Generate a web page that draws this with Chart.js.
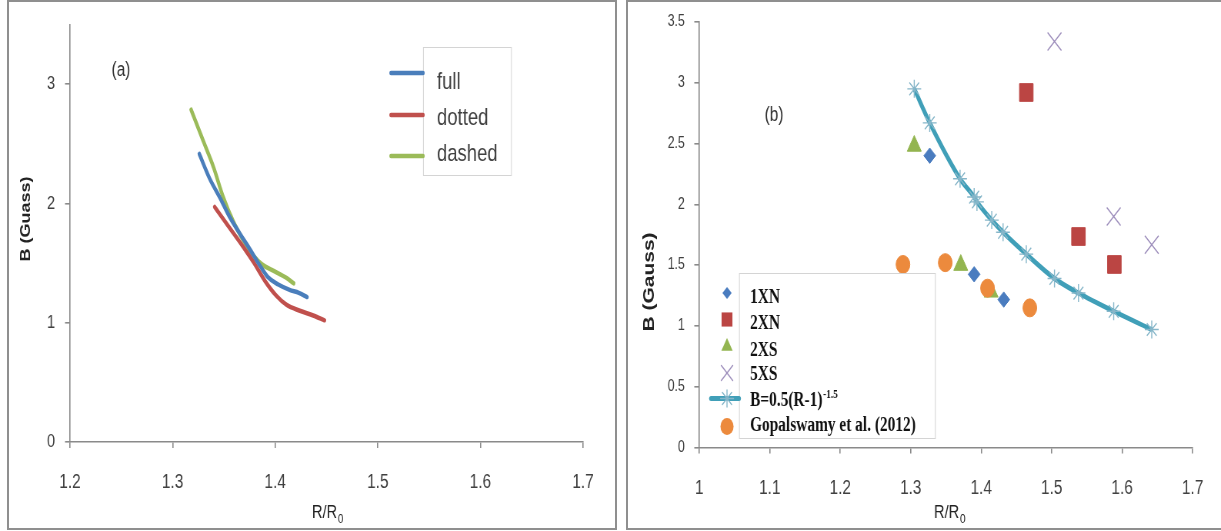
<!DOCTYPE html>
<html><head><meta charset="utf-8">
<script src="https://cdn.jsdelivr.net/npm/chart.js"></script>
<style>
html,body{margin:0;padding:0;background:#fff;width:1221px;height:531px;overflow:hidden}
.panel{position:absolute;box-sizing:border-box;border:2px solid #8f8f8f;}
#pa{left:7px;top:0;width:610px;height:530px}
#pb{left:626px;top:0;width:600px;height:530px}
canvas{position:absolute;top:0}
#ca{left:0}
#cb{left:620px}
</style></head>
<body>
<div class="panel" id="pa"></div><div class="panel" id="pb"></div>
<canvas id="ca" width="806" height="531" style="width:620px;height:531px"></canvas>
<canvas id="cb" width="781" height="531" style="width:601px;height:531px"></canvas>
<script>
// ---------- Panel (a) data ----------
const fullR   = [1.326,1.336,1.346,1.356,1.366,1.375,1.385,1.393,1.403,1.414,1.423,1.431];
const fullB   = [2.415,2.21,2.05,1.88,1.74,1.62,1.48,1.38,1.32,1.275,1.25,1.215];
const dottedR = [1.341,1.353,1.366,1.379,1.390,1.401,1.411,1.424,1.437,1.448];
const dottedB = [1.97,1.825,1.67,1.505,1.35,1.227,1.15,1.10,1.06,1.02];
const dashedR = [1.318,1.330,1.340,1.349,1.359,1.369,1.379,1.387,1.398,1.410,1.418];
const dashedB = [2.785,2.52,2.30,2.06,1.85,1.69,1.56,1.49,1.436,1.38,1.33];
const xTicksA = [1.2,1.3,1.4,1.5,1.6,1.7];
const xLabelsA = ['1.2','1.3','1.4','1.5','1.6','1.7'];
const yTicksA = [0,1,2,3];
const yLabelsA = ['0','1','2','3'];
const legendA = ['full','dotted','dashed'];

// ---------- Panel (b) data ----------
const r1XN = [1.327,1.390,1.432], b1XN = [2.40,1.424,1.216];
const r2XN = [1.464,1.538,1.589], b2XN = [2.92,1.735,1.505];
const r2XS = [1.305,1.371,1.414], b2XS = [2.48,1.50,1.28];
const r5XS = [1.504,1.588,1.642], b5XS = [3.34,1.90,1.667];
const rFit = [1.305,1.327,1.370,1.390,1.394,1.415,1.431,1.464,1.504,1.538,1.588,1.642];
const bFit = [2.95,2.67,2.21,2.06,2.02,1.87,1.77,1.59,1.39,1.27,1.12,0.97];
const rGop = [1.289,1.349,1.409,1.469], bGop = [1.505,1.52,1.31,1.148];
const xTicksB = [1,1.1,1.2,1.3,1.4,1.5,1.6,1.7];
const xLabelsB = ['1','1.1','1.2','1.3','1.4','1.5','1.6','1.7'];
const yTicksB = [0,0.5,1,1.5,2,2.5,3,3.5];
const yLabelsB = ['0','0.5','1','1.5','2','2.5','3','3.5'];
const legendB = ['1XN','2XN','2XS','5XS','B=0.5(R-1)','Gopalswamy et al. (2012)'];

// ---------- common ----------
const KA = 806/620, KB = 781/601;
const SANS = '"Liberation Sans", Arial, sans-serif';
const SERIF = '"Liberation Serif", "Times New Roman", serif';
const AXC = '#8a8a8a', TXT = '#404040';
const pts = (xs, ys) => xs.map((x, i) => ({x: x, y: ys[i]}));

function mark(c, style, x, y, r, fill, stroke, lw) {
  c.save(); c.beginPath(); c.fillStyle = fill; c.strokeStyle = stroke; c.lineWidth = lw;
  const d = r * Math.SQRT1_2;
  if (style === 'circle') { c.arc(x, y, r, 0, 2*Math.PI); c.fill(); }
  else if (style === 'rectRot') { c.moveTo(x-r,y); c.lineTo(x,y-r); c.lineTo(x+r,y); c.lineTo(x,y+r); c.closePath(); c.fill(); }
  else if (style === 'rect') { c.rect(x-d,y-d,2*d,2*d); c.fill(); }
  else if (style === 'triangle') { c.moveTo(x,y-r); c.lineTo(x+r*0.866,y+r/2); c.lineTo(x-r*0.866,y+r/2); c.closePath(); c.fill(); }
  else if (style === 'crossRot') { c.moveTo(x-d,y-d); c.lineTo(x+d,y+d); c.moveTo(x+d,y-d); c.lineTo(x-d,y+d); c.stroke(); }
  else if (style === 'star') { c.moveTo(x-d,y-d); c.lineTo(x+d,y+d); c.moveTo(x+d,y-d); c.lineTo(x-d,y+d);
    c.moveTo(x,y-r); c.lineTo(x,y+r); c.moveTo(x-r,y); c.lineTo(x+r,y); c.stroke(); }
  c.restore();
}

function subText(c, x, base, main, sub, fs, ss) {
  c.save(); c.textAlign = 'left'; c.textBaseline = 'alphabetic'; c.fillStyle = '#222';
  c.font = fs + 'px ' + SANS; c.fillText(main, x, base);
  const w = c.measureText(main).width;
  c.font = ss + 'px ' + SANS; c.fillText(sub, x + w + 1, base + 5);
  c.restore();
}

function axis(ticks, labels, font, pad, tl, bw, afterFit, min, max) {
  return {
    type: 'linear', min: min, max: max,
    afterBuildTicks: s => { s.ticks = ticks.map(v => ({value: v})); },
    afterFit: afterFit,
    ticks: { autoSkip: false, maxRotation: 0, color: TXT, font: {family: SANS, size: font}, padding: pad,
             callback: (v, i) => labels[i] },
    grid: { display: true, drawOnChartArea: false, drawTicks: true, tickLength: tl, color: AXC, lineWidth: bw },
    border: { display: true, color: AXC, width: bw }
  };
}

// ---------- Chart (a) ----------
const annA = {
  id: 'annA',
  afterDraw(chart) {
    const c = chart.ctx, X = v => v * KA;
    c.save();
    c.fillStyle = '#333'; c.font = '20px ' + SANS; c.textAlign = 'center'; c.textBaseline = 'middle';
    c.fillText('(a)', X(121), 70);
    c.save(); c.translate(X(26.5), 219); c.rotate(-Math.PI/2);
    c.font = 'bold 18px ' + SANS; c.fillStyle = '#222'; c.fillText('B (Guass)', 0, 0); c.restore();
    subText(c, X(312), 518, 'R/R', '0', 19, 13);
    // legend
    c.fillStyle = '#fff'; c.fillRect(X(423), 47, X(511)-X(423), 128);
    c.strokeStyle = '#d4d4d4'; c.lineWidth = 1; c.strokeRect(X(423)+0.5, 47.5, X(511)-X(423), 128);
    const cols = ['#4A7EBB', '#C0504D', '#9BBB59'], ly = [73, 115, 156], ty = [82, 118, 154];
    c.lineCap = 'round';
    for (let i = 0; i < 3; i++) {
      c.beginPath(); c.strokeStyle = cols[i]; c.lineWidth = 4.5;
      c.moveTo(X(391), ly[i]); c.lineTo(X(423), ly[i]); c.stroke();
      c.fillStyle = TXT; c.font = '24px ' + SANS; c.textAlign = 'left'; c.textBaseline = 'middle';
      c.fillText(legendA[i], X(437), ty[i]);
    }
    c.restore();
  }
};

new Chart(document.getElementById('ca'), {
  type: 'line',
  data: { datasets: [
    { label: legendA[0], data: pts(fullR, fullB), borderColor: '#4A7EBB', borderWidth: 4.5, pointRadius: 0, cubicInterpolationMode: 'monotone', fill: false, borderCapStyle: 'round' },
    { label: legendA[1], data: pts(dottedR, dottedB), borderColor: '#C0504D', borderWidth: 4.5, pointRadius: 0, cubicInterpolationMode: 'monotone', fill: false, borderCapStyle: 'round' },
    { label: legendA[2], data: pts(dashedR, dashedB), borderColor: '#9BBB59', borderWidth: 4.5, pointRadius: 0, cubicInterpolationMode: 'monotone', fill: false, borderCapStyle: 'round' }
  ]},
  options: {
    responsive: false, animation: false, events: [],
    layout: { padding: { left: 0, right: 806 - 583*KA, top: 23, bottom: 0 } },
    plugins: { legend: { display: false }, tooltip: { enabled: false } },
    scales: {
      x: axis(xTicksA, xLabelsA, 20, 22, 6, 1.6, s => { s.height = 89; }, 1.2, 1.7),
      y: axis(yTicksA, yLabelsA, 19, 13, 5*KA, 1.6, s => { s.width = 70*KA; }, 0, 3.5)
    }
  },
  plugins: [annA]
});

// ---------- Chart (b) ----------
const stylesB = [
  { st: 'rectRot', r: 7.7, fill: '#4A7CBF', stroke: '#4A7CBF', lw: 1, lr: 6 },
  { st: 'rect', r: 12.5, fill: '#BB4543', stroke: '#BB4543', lw: 1, lr: 10 },
  { st: 'triangle', r: 10.5, fill: '#93B550', stroke: '#93B550', lw: 1, lr: 8.5 },
  { st: 'crossRot', r: 12.7, fill: '#9C8DBB', stroke: '#9C8DBB', lw: 1.4, lr: 10.5 },
  { st: 'star', r: 9, fill: '#86B6C9', stroke: '#86B6C9', lw: 1.4, lr: 8.5 },
  { st: 'circle', r: 9, fill: '#EC8A3D', stroke: '#EC8A3D', lw: 1, lr: 8.5 }
];

const annB = {
  id: 'annB',
  afterDraw(chart) {
    const c = chart.ctx, X = v => (v - 620) * KB;
    c.save();
    c.fillStyle = '#333'; c.font = '20px ' + SANS; c.textAlign = 'center'; c.textBaseline = 'middle';
    c.fillText('(b)', X(774), 115);
    c.save(); c.translate(X(649.5), 282); c.rotate(-Math.PI/2);
    c.font = 'bold 21px ' + SANS; c.fillStyle = '#222'; c.fillText('B (Gauss)', 0, 0); c.restore();
    subText(c, X(934), 518, 'R/R', '0', 19, 13);
    // legend box
    c.fillStyle = '#fff'; c.fillRect(X(739), 273, X(935)-X(739), 165);
    c.strokeStyle = '#d4d4d4'; c.lineWidth = 1; c.strokeRect(X(739)+0.5, 273.5, X(935)-X(739), 165);
    const my = [293, 319.5, 346.5, 373, 398.5, 426.5];
    const base = [303, 328.5, 355.5, 380, 405.5, 431];
    // fit line sample
    c.beginPath(); c.strokeStyle = '#409FB8'; c.lineWidth = 5; c.lineCap = 'round';
    c.moveTo(X(711), my[4]); c.lineTo(X(739), my[4]); c.stroke();
    for (let i = 0; i < 6; i++) {
      const s = stylesB[i];
      mark(c, s.st, X(727), my[i], s.lr, s.fill, s.stroke, s.lw);
      c.fillStyle = '#111'; c.font = 'bold 20px ' + SERIF; c.textAlign = 'left'; c.textBaseline = 'alphabetic';
      c.fillText(legendB[i], X(750), base[i]);
      if (i === 4) {
        const w = c.measureText(legendB[i]).width;
        c.font = 'bold 12px ' + SERIF; c.fillText('-1.5', X(750) + w + 1, base[i] - 8);
      }
    }
    c.restore();
  }
};

function sc(label, xs, ys, s, order) {
  return { label: label, data: pts(xs, ys), showLine: false, pointStyle: s.st, pointRadius: s.r,
    pointBackgroundColor: s.fill, pointBorderColor: s.stroke, pointBorderWidth: s.lw, order: order };
}

new Chart(document.getElementById('cb'), {
  type: 'scatter',
  data: { datasets: [
    sc(legendB[0], r1XN, b1XN, stylesB[0], 5),
    sc(legendB[1], r2XN, b2XN, stylesB[1], 4),
    sc(legendB[2], r2XS, b2XS, stylesB[2], 3),
    sc(legendB[3], r5XS, b5XS, stylesB[3], 2),
    { label: legendB[4], data: pts(rFit, bFit), showLine: true, borderColor: '#409FB8', borderWidth: 5,
      cubicInterpolationMode: 'monotone', pointStyle: 'star', pointRadius: 9, pointBorderColor: '#86B6C9',
      pointBackgroundColor: '#86B6C9', pointBorderWidth: 1.4, order: 1 },
    sc(legendB[5], rGop, bGop, stylesB[5], 0)
  ]},
  options: {
    responsive: false, animation: false, events: [],
    layout: { padding: { left: 0, right: 781 - 583*KB, top: 15.6, bottom: 0 } },
    plugins: { legend: { display: false }, tooltip: { enabled: false } },
    scales: {
      x: axis(xTicksB, xLabelsB, 20, 23, 6, 1.6, s => { s.height = 83.6; }, 1, 1.7),
      y: axis(yTicksB, yLabelsB, 16, 12.4, 5*KB, 1.6, s => { s.width = 79.3*KB; }, 0, 3.5)
    }
  },
  plugins: [annB]
});
</script>
</body></html>
